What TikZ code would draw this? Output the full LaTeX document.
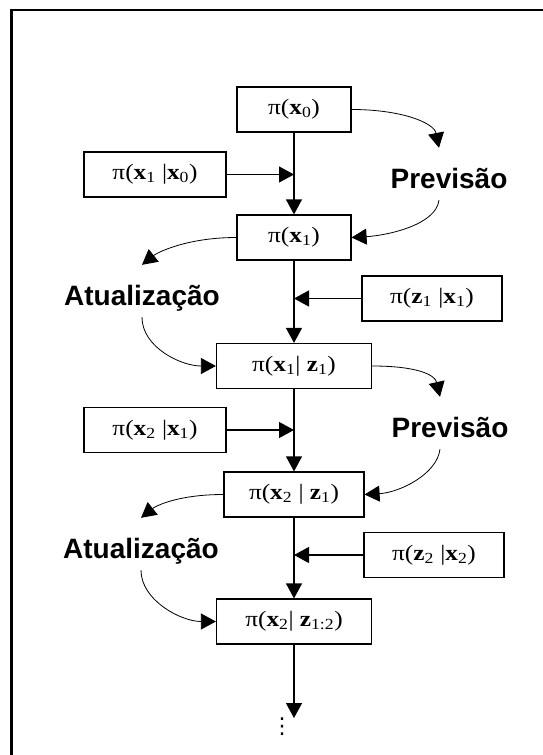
\documentclass[tikz,border=0pt]{standalone}
\usepackage{fontspec}
\setmainfont{Liberation Serif}
\newfontfamily\caixafonte{Liberation Serif}[FakeStretch=1.15]
\newfontfamily\rotulofonte{Liberation Sans}
\newfontfamily\simbolos{DejaVu Sans}
\usetikzlibrary{arrows.meta,positioning}
\newcommand{\bx}{\textbf{x}}
\newcommand{\bz}{\textbf{z}}

\begin{document}
\begin{tikzpicture}[x=1pt, y=-1pt, >={Triangle[length=15pt,width=16pt]}]
    \tikzset{
        caixa/.style={rectangle, draw=black, line width=1.2pt, minimum height=45pt, inner xsep=5pt, font=\caixafonte\fontsize{22}{25}\selectfont, text centered},
        rotulo/.style={font=\rotulofonte\bfseries\fontsize{28}{30}\selectfont, inner xsep=0pt, inner ysep=8pt, text height=32pt, text depth=4pt, anchor=base},
        seta/.style={draw, line width=1.2pt, ->},
        curva/.style={draw, line width=0.8pt, ->},
    }
    \useasboundingbox (0,0) rectangle (542,755);
    \draw[line width=2.5pt] (11.5,770) |- (560,10);

    \node[caixa, minimum width=114pt] (px0) at (294,109.5) {π(\bx\textsubscript{0})};
    \node[caixa, minimum width=142pt] (px1x0) at (155,174.5) {π(\bx\textsubscript{1} |\bx\textsubscript{0})};
    \node[caixa, minimum width=114pt] (px1) at (294,237.5) {π(\bx\textsubscript{1})};
    \node[caixa, minimum width=140pt] (pz1x1) at (432,298.5) {π(\bz\textsubscript{1} |\bx\textsubscript{1})};
    \node[caixa, minimum width=155pt] (px1z1) at (294,366) {π(\bx\textsubscript{1}| \bz\textsubscript{1})};
    \node[caixa, minimum width=142pt] (px2x1) at (155,430) {π(\bx\textsubscript{2} |\bx\textsubscript{1})};
    \node[caixa, minimum width=140pt] (px2z1) at (294,494.5) {π(\bx\textsubscript{2} | \bz\textsubscript{1})};
    \node[caixa, minimum width=140pt] (pz2x2) at (434,555) {π(\bz\textsubscript{2} |\bx\textsubscript{2})};
    \node[caixa, minimum width=155pt] (px2z12) at (294,621.5) {π(\bx\textsubscript{2}| \bz\textsubscript{1:2})};
    \node[inner sep=0pt, anchor=north, font=\simbolos\fontsize{22}{24}\selectfont] (cont) at (282,718) {⋮};

    \node[rotulo] (prev1) at (449,188) {Previsão};
    \node[rotulo] (atu1) at (142,305) {Atualização};
    \node[rotulo] (prev2) at (450,437) {Previsão};
    \node[rotulo] (atu2) at (141,558) {Atualização};

    \draw[seta] (px0) -- (px1);
    \draw[seta] (px1x0.east) -- (px1x0.east -| px0.south);
    \draw[seta] (px1) -- (px1z1);
    \draw[seta] (pz1x1.west) -- (pz1x1.west -| px1.south);
    \draw[seta] (px1z1) -- (px2z1);
    \draw[seta] (px2x1.east) -- (px2x1.east -| px1z1.south);
    \draw[seta] (px2z1) -- (px2z12);
    \draw[seta] (pz2x2.west) -- (pz2x2.west -| px2z1.south);
    \draw[seta] (px2z12.south) -- (px2z12.south |- cont.north);

    \draw[curva] (px0.east) .. controls +(50,0) and +(-5,-25) .. ([xshift=-10pt]prev1.north);
    \draw[curva] ([xshift=-10pt]prev1.south) .. controls +(-3,25) and +(35,-2) .. (px1.east);
    \draw[curva] (px1.west) .. controls +(-50,0) and +(15,-12) .. (atu1.north);
    \draw[curva] (atu1.south) .. controls +(0,30) and +(-35,0) .. (px1z1.west);
    \draw[curva] (px1z1.east) .. controls +(45,0) and +(-5,-22) .. ([xshift=-10pt]prev2.north);
    \draw[curva] ([xshift=-10pt]prev2.south) .. controls +(-3,25) and +(35,-2) .. (px2z1.east);
    \draw[curva] (px2z1.west) .. controls +(-45,0) and +(15,-12) .. (atu2.north);
    \draw[curva] (atu2.south) .. controls +(0,30) and +(-35,0) .. (px2z12.west);
\end{tikzpicture}
\end{document}
